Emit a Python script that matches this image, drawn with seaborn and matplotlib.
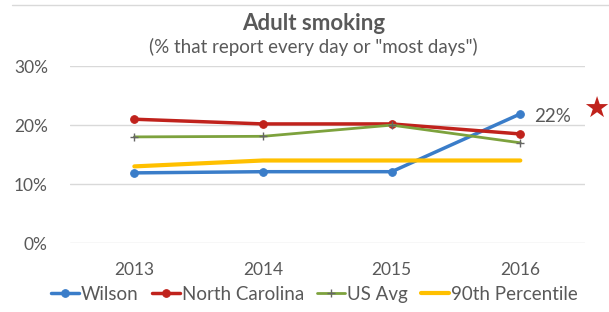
import matplotlib
matplotlib.use("Agg")
import matplotlib.pyplot as plt
import pandas as pd
import seaborn as sns

YEARS = ["2013", "2014", "2015", "2016"]
WILSON = [11.9, 12.1, 12.1, 21.9]
NORTH_CAROLINA = [21.0, 20.2, 20.2, 18.5]
US_AVG = [18.0, 18.1, 20.0, 17.0]
PCT_90 = [13.0, 14.0, 14.0, 14.0]
Y_TICKS = [0, 10, 20, 30]

SERIES = {
    "Wilson": WILSON,
    "North Carolina": NORTH_CAROLINA,
    "US Avg": US_AVG,
    "90th Percentile": PCT_90,
}
STYLE = {
    "Wilson":          dict(color="#3a7dc9", marker="o", markersize=5.5, linewidth=2.5,
                            markeredgecolor="#3a7dc9"),
    "North Carolina":  dict(color="#c0221c", marker="o", markersize=5.5, linewidth=2.5,
                            markeredgecolor="#c0221c"),
    "US Avg":          dict(color="#7da23d", marker="+", markersize=6, linewidth=2.0,
                            markeredgecolor="#666666", markeredgewidth=1),
    "90th Percentile": dict(color="#ffc000", marker=None, linewidth=3.0),
}

GREY = "#595959"

sns.set_theme(style="white")
plt.rcParams["font.family"] = ["Lato", "DejaVu Sans"]

df = pd.DataFrame({"year": YEARS, **SERIES})
df["pos"] = range(len(YEARS))

fig = plt.figure(figsize=(6.09, 3.12), dpi=100)
ax = fig.add_axes([0.115, 0.221, 0.845, 0.567])

for name in SERIES:
    sns.lineplot(data=df, x="pos", y=name, ax=ax, label=name, **STYLE[name])

ax.set_xlim(-0.5, len(YEARS) - 0.5)
ax.set_ylim(0, 30)
ax.set_yticks(Y_TICKS)
ax.set_yticklabels([f"{t}%" for t in Y_TICKS])
ax.set_xticks(df["pos"])
ax.set_xticklabels(YEARS)
ax.set_xlabel("")
ax.set_ylabel("")
ax.yaxis.grid(True, color="#d9d9d9", linewidth=1)
ax.set_axisbelow(True)
for s in ax.spines.values():
    s.set_visible(False)
ax.tick_params(axis="both", colors=GREY, labelsize=12.5, length=0)
ax.tick_params(axis="x", pad=14)
ax.tick_params(axis="y", pad=16)

# end label for Wilson
ax.annotate(f"{WILSON[-1]:.0f}%", xy=(3, WILSON[-1]), xytext=(10, -2),
            textcoords="offset points", va="center", ha="left",
            color=GREY, fontsize=13.5)
fig.text(0.979, 0.648, "\u2605", color="#c0221c", fontsize=21,
         ha="center", va="center", family=["DejaVu Sans"])

leg = ax.legend(loc="upper center", bbox_to_anchor=(0.475, -0.2), ncol=4,
                frameon=False, handlelength=1.5, handletextpad=0.1,
                columnspacing=0.7, fontsize=13.5, borderaxespad=0)
for t in leg.get_texts():
    t.set_color(GREY)

fig.text(0.515, 0.925, "Adult smoking", ha="center", va="center",
         fontsize=16, fontweight="bold", color=GREY)
fig.text(0.515, 0.848, '(% that report every day or "most days")', ha="center",
         va="center", fontsize=13.5, color=GREY)

fig.add_artist(plt.Line2D([0.02, 1.0], [0.985, 0.985], color="#d9d9d9",
                          linewidth=1, transform=fig.transFigure))

fig.savefig("out.png", dpi=100)
